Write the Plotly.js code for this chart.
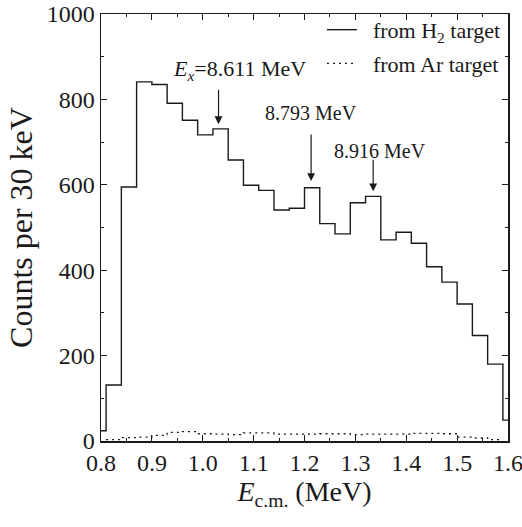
<!DOCTYPE html>
<html>
<head>
<meta charset="utf-8">
<script src="https://cdn.plot.ly/plotly-3.0.1.min.js"></script>
<style>html,body{margin:0;padding:0;background:#fff;}#chart{width:522px;height:527px;}</style>
</head>
<body>
<div id="chart"></div>
<script>
// Bin edges (MeV), 30 keV bins
const binEdges = [0.78,0.81,0.84,0.87,0.90,0.93,0.96,0.99,1.02,1.05,1.08,1.11,1.14,1.17,1.20,1.23,1.26,1.29,1.32,1.35,1.38,1.41,1.44,1.47,1.50,1.53,1.56,1.59,1.62];
// Counts per bin from H2 target (solid)
const h2Counts = [24,131,595,841,835,791,751,717,731,658,599,587,541,545,593,509,485,558,573,471,489,463,408,372,321,247,180,49];
// Counts per bin from Ar target (dotted)
const arCounts = [null,3,8,9,13,20,22,17,16,15,19,19,16,16,16,17,17,15,16,16,16,18,18,17,9,7,3,null];
// Series names
const seriesNames = ["from H<sub>2</sub> target", "from Ar target"];
// Peak markers (arrow tips) and labels
const peakX = [1.031, 1.213, 1.335];
const peakY = [742, 609, 585];
const arrowLen = [-36, -48, -33];
const peakLabels = ["<i>E</i><sub><i>x</i></sub>=8.611 MeV", "8.793 MeV", "8.916 MeV"];
const labelX = [1.073, 1.213, 1.348];
const labelY = [868, 768, 679];
const labelSize = [22, 20, 20];

function steps(edges, counts) {
  const x = [], y = [];
  for (let i = 0; i < counts.length; i++) {
    const c = counts[i];
    if (c == null) {
      if (i > 0 && counts[i-1] != null) { x.push(edges[i]); y.push(counts[i-1]); }
      x.push(edges[i]); y.push(null);
      continue;
    }
    x.push(edges[i]); y.push(c);
  }
  if (counts[counts.length-1] != null) { x.push(edges[counts.length]); y.push(counts[counts.length-1]); }
  return {x, y};
}

const s1 = steps(binEdges, h2Counts);
const s2 = steps(binEdges, arCounts);
const FONT = "Liberation Serif, Times New Roman, serif";
const INK = '#1a1a1a';

const traces = [
  {x: s1.x, y: s1.y, type: 'scatter', mode: 'lines', name: '&nbsp;&nbsp;' + seriesNames[0], legendgroup: 'a',
   line: {shape: 'hv', color: INK, width: 1.4}, connectgaps: false},
  {x: s2.x, y: s2.y, type: 'scatter', mode: 'lines', name: '&nbsp;&nbsp;' + seriesNames[1], legendgroup: 'b',
   line: {shape: 'hv', color: INK, width: 1.3, dash: '2px,4px'}, connectgaps: false}
];

const annotations = [];
for (let i = 0; i < peakX.length; i++) {
  annotations.push({x: peakX[i], y: peakY[i], xref: 'x', yref: 'y', text: '', showarrow: true,
    ax: 0, ay: arrowLen[i], arrowhead: 2, arrowsize: 1.3, arrowwidth: 1.2, arrowcolor: INK});
  annotations.push({x: labelX[i], y: labelY[i], xref: 'x', yref: 'y', text: peakLabels[i], showarrow: false,
    font: {family: FONT, size: labelSize[i], color: INK}, xanchor: 'center', yanchor: 'middle'});
}

const axisCommon = {
  showline: true, linewidth: 1.5, linecolor: INK, mirror: 'allticks',
  ticks: 'inside', ticklen: 6, tickwidth: 1.2, tickcolor: INK,
  showgrid: false, zeroline: false, ticklabeloverflow: 'allow',
  tickfont: {family: FONT, size: 24, color: INK}
};

const layout = {
  width: 522, height: 527,
  margin: {l: 101, r: 14, t: 14, b: 86, autoexpand: false},
  paper_bgcolor: '#fff', plot_bgcolor: '#fff',
  font: {family: FONT, color: INK},
  showlegend: true,
  legend: {x: 0.995, xanchor: 'right', y: 1.012, yanchor: 'top', bgcolor: 'rgba(0,0,0,0)',
    font: {family: FONT, size: 22, color: INK}, traceorder: 'grouped', tracegroupgap: 2},
  xaxis: Object.assign({}, axisCommon, {
    range: [0.8, 1.6], tick0: 0.8, dtick: 0.1, tickformat: '.1f',
    minor: {dtick: 0.05, ticks: 'inside', ticklen: 3, tickwidth: 1, tickcolor: INK},
    title: {text: '<i>E</i><sub>c.m.</sub> (MeV)', font: {family: FONT, size: 28, color: INK}, standoff: 6}
  }),
  yaxis: Object.assign({}, axisCommon, {
    range: [0, 1000], tick0: 0, dtick: 200,
    minor: {dtick: 100, ticks: 'inside', ticklen: 3, tickwidth: 1, tickcolor: INK},
    title: {text: 'Counts per 30 keV', font: {family: FONT, size: 32, color: INK}, standoff: 4}
  }),
  annotations: annotations
};

Plotly.newPlot('chart', traces, layout, {displayModeBar: false, staticPlot: true});
</script>
</body>
</html>
